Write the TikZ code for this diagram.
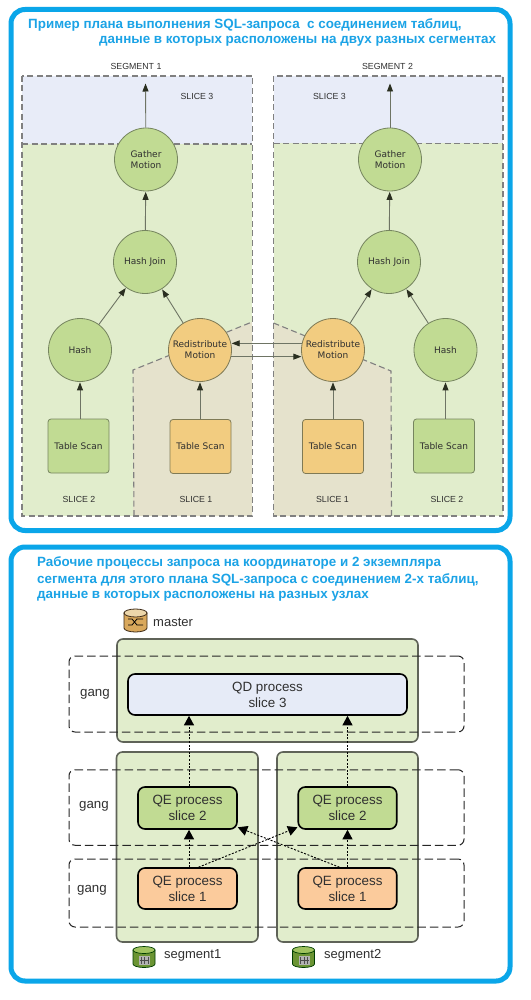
\documentclass[tikz,border=0pt]{standalone}
\usepackage{fontspec}
\setmainfont{Liberation Sans}
\newfontfamily\verd{DejaVu Sans}
\usetikzlibrary{arrows.meta,calc}
\definecolor{panelblue}{HTML}{0AA6E9}
\definecolor{titleblue}{HTML}{1BA3E6}
\definecolor{slicegreen}{HTML}{E1EDCC}
\definecolor{sliceblue}{HTML}{E8ECF8}
\definecolor{slicebeige}{HTML}{E5E2CC}
\definecolor{nodegreen}{HTML}{C1DB93}
\definecolor{nodeorange}{HTML}{F2CC80}
\definecolor{qeorange}{HTML}{FBCB9C}
\definecolor{qdblue}{HTML}{E6EBF7}
\definecolor{edgegreen}{HTML}{76855F}
\definecolor{edgeorange}{HTML}{7F7A55}
\definecolor{dashgray}{HTML}{808080}
\definecolor{arrowgray}{HTML}{6E7464}
\definecolor{arrowdark}{HTML}{2A2F20}
\definecolor{boxgray}{HTML}{5F6358}
\definecolor{inktext}{HTML}{303030}
\tikzset{
  panel/.style={draw=panelblue,line width=5pt,rounded corners=14pt,fill=white},
  titletext/.style={font=\bfseries\fontsize{13.4}{15}\selectfont,text=titleblue,inner sep=0pt,anchor=west},
  slicedash/.style={draw=dashgray,line width=1.1pt,dash pattern=on 6pt off 3.5pt},
  labeltext/.style={font=\fontsize{8.8}{10}\selectfont,text=inktext,inner sep=0pt},
  planround/.style={circle,minimum size=63pt,inner sep=0pt,line width=.8pt,align=center,
     font=\verd\fontsize{9}{11}\selectfont,text=inktext},
  planscan/.style={rectangle,rounded corners=3pt,minimum width=61pt,minimum height=54pt,inner sep=0pt,
     line width=.8pt,font=\verd\fontsize{9}{10}\selectfont,text=inktext},
  gn/.style={draw=edgegreen,fill=nodegreen},
  on/.style={draw=edgeorange,fill=nodeorange},
  planarrow/.style={draw=arrowgray,line width=.9pt,-{Triangle[length=8pt,width=6pt,color=arrowdark]},shorten >=.5pt},
  hostbox/.style={draw=boxgray,fill=slicegreen,line width=1.6pt,rounded corners=6pt},
  procbox/.style={draw=black,line width=1.6pt,rounded corners=7pt,inner sep=0pt,align=center,
     font=\fontsize{13.4}{16}\selectfont,text=inktext},
  gangbox/.style={draw=black!85,line width=1pt,dash pattern=on 8.5pt off 4pt,rounded corners=6pt},
  ganglabel/.style={font=\fontsize{13.3}{15}\selectfont,text=inktext,inner sep=0pt},
  hostlabel/.style={font=\fontsize{13}{14}\selectfont,text=inktext,inner sep=0pt,anchor=west},
  flow/.style={draw=black,line width=.9pt,dash pattern=on 2pt off 1.6pt,
     -{Triangle[length=9.5pt,width=10pt,color=black]}},
}
\begin{document}
\begin{tikzpicture}[x=1pt,y=-1pt]
\useasboundingbox (0,0) rectangle (530,1000);
\fill[white] (0,0) rectangle (530,1000);

% panels
\draw[panel] (11,9.5) rectangle (510,530.5);
\draw[panel] (11,547) rectangle (510,981);

% titles
\node[titletext] (t1a) at (28,25) {Пример плана выполнения SQL-запроса\ \ с соединением таблиц,};
\node[titletext] (t1b) at (99,41) {данные в которых расположены на двух разных сегментах};
\node[titletext] (t2a) at (37,563) {Рабочие процессы запроса на координаторе и 2 экземпляра};
\node[titletext] (t2b) at (37,579.5) {сегмента для этого плана SQL-запроса с соединением 2-х таблиц,};
\node[titletext] (t2c) at (37,596) {данные в которых расположены на разных узлах};

% ---- segment 1 areas
\fill[slicegreen] (22,76) rectangle (252,516);
\fill[sliceblue] (22,76) rectangle (252,144);
\fill[slicebeige] (133,370) -- (252,322) -- (252,516) -- (133,516) -- cycle;
\draw[slicedash] (22,76) rectangle (252.5,516);
\draw[slicedash] (22,144) -- (252,144);
\draw[slicedash] (134,516) -- (133,370) -- (252,322);
% ---- segment 2 areas
\fill[slicegreen] (273.5,76) rectangle (503,516);
\fill[sliceblue] (273.5,76) rectangle (503,143.5);
\fill[slicebeige] (273.5,323) -- (391,371) -- (391,516) -- (273.5,516) -- cycle;
\draw[slicedash] (273.5,76) rectangle (503,516);
\draw[slicedash] (273.5,143.5) -- (503,143.5);
\draw[slicedash] (273.5,323) -- (391,371) -- (391.5,516);

% labels
\node[labeltext] (seg1) at (136,66) {SEGMENT 1};
\node[labeltext] (seg2) at (387.5,66) {SEGMENT 2};
\node[labeltext] (s3a) at (197,96) {SLICE 3};
\node[labeltext] (s3b) at (329.5,96) {SLICE 3};
\node[labeltext] (s2a) at (79,499) {SLICE 2};
\node[labeltext] (s1a) at (196,499) {SLICE 1};
\node[labeltext] (s1b) at (332.5,499) {SLICE 1};
\node[labeltext] (s2b) at (447,499) {SLICE 2};

% plan nodes
\node[planround,gn] (g1) at (146,159.5) {Gather\\Motion};
\node[planround,gn] (j1) at (145,262) {Hash Join};
\node[planround,gn] (h1) at (80,350) {Hash};
\node[planround,on] (r1) at (200,350) {Redistribute\\Motion};
\node[planscan,gn] (ts1) at (78.5,446) {Table Scan};
\node[planscan,on] (ts2) at (200.5,446.5) {Table Scan};
\node[planround,gn] (g2) at (390,159.5) {Gather\\Motion};
\node[planround,gn] (j2) at (389,262) {Hash Join};
\node[planround,on] (r2) at (333,350) {Redistribute\\Motion};
\node[planround,gn] (h2) at (445.5,350) {Hash};
\node[planscan,on] (ts3) at (333,446.5) {Table Scan};
\node[planscan,gn] (ts4) at (444,446) {Table Scan};
\coordinate (o1) at (145.5,83);
\coordinate (o2) at (390,83);

\draw[planarrow] (g1) -- (o1);
\draw[planarrow] (g2) -- (o2);
\draw[planarrow] (j1) -- (g1);
\draw[planarrow] (j2) -- (g2);
\draw[planarrow] (h1) -- (j1);
\draw[planarrow] (r1) -- (j1);
\draw[planarrow] (r2) -- (j2);
\draw[planarrow] (h2) -- (j2);
\draw[planarrow] (ts1.north -| h1) -- (h1);
\draw[planarrow] (ts2.north -| r1) -- (r1);
\draw[planarrow] (ts3) -- (r2);
\draw[planarrow] (ts4.north -| h2) -- (h2);
\draw[planarrow] (r2.168) -- (r1.12);
\draw[planarrow] (r1.-12) -- (r2.192);

% ---- second panel
\node[hostbox,minimum width=301pt,minimum height=103pt,inner sep=0pt] (mb) at (267.5,690.5) {};
\node[hostbox,minimum width=141.5pt,minimum height=190pt,inner sep=0pt] (sb1) at (187.25,847) {};
\node[hostbox,minimum width=141pt,minimum height=190pt,inner sep=0pt] (sb2) at (347.5,847) {};

\node[gangbox,minimum width=395pt,minimum height=76pt,inner sep=0pt] (g3) at (266.5,694) {};
\node[gangbox,minimum width=395pt,minimum height=75.5pt,inner sep=0pt] (g4) at (266.5,807.5) {};
\node[gangbox,minimum width=395pt,minimum height=68pt,inner sep=0pt] (g5) at (266.5,893) {};

\node[procbox,fill=qdblue,minimum width=279pt,minimum height=41pt] (qd) at (267.5,694.5) {QD process\\slice 3};
\node[procbox,fill=nodegreen,minimum width=99pt,minimum height=42pt] (qe2l) at (187.5,808) {QE process\\slice 2};
\node[procbox,fill=nodegreen,minimum width=98.5pt,minimum height=42pt] (qe2r) at (347.5,808) {QE process\\slice 2};
\node[procbox,fill=qeorange,minimum width=99pt,minimum height=41pt] (qe1l) at (187.5,888.5) {QE process\\slice 1};
\node[procbox,fill=qeorange,minimum width=98.5pt,minimum height=41pt] (qe1r) at (347.5,888.5) {QE process\\slice 1};

\node[ganglabel] (gl1) at (95,694) {gang};
\node[ganglabel] (gl2) at (94,806) {gang};
\node[ganglabel] (gl3) at (92,890) {gang};

\draw[flow] ([xshift=1.5pt]qe2l.north) -- ([xshift=1.5pt]qe2l.north |- qd.south);
\draw[flow] (qe2r.north) -- (qe2r.north |- qd.south);
\draw[flow] ([xshift=1.5pt]qe1l.north) -- ([xshift=1.5pt]qe2l.south);
\draw[flow] (qe1r.north) -- (qe2r.south);
\draw[flow] ([xshift=11pt]qe1l.north) -- ([yshift=2.5pt]qe2r.south west);
\draw[flow] ([xshift=-8pt]qe1r.north) -- ([yshift=2.5pt]qe2l.south east);

% master icon
\node[hostlabel] (ml) at (153,622.5) {master};
\node[hostlabel] (sl1) at (164,955.5) {segment1};
\node[hostlabel] (sl2) at (324,955.5) {segment2};

\begin{scope}[shift={(124,608)}]
  \draw[draw=black!70!brown,fill={rgb,255:red,217;green,168;blue,92},line width=.8pt]
     (0,5) -- (0,20) arc[x radius=11.5,y radius=-4,start angle=180,end angle=360] -- (23,5) -- cycle;
  \draw[draw=black!70!brown,fill={rgb,255:red,236;green,214;blue,170},line width=.8pt]
     (11.5,5) ellipse[x radius=11.5,y radius=4];
  \draw[black,line width=.8pt] (4,11) -- (8,11) -- (13,17) -- (19,17);
  \draw[black,line width=.8pt] (4,17) -- (8,17) -- (13,11) -- (19,11);
\end{scope}
\foreach \ix/\nm in {133/ia,292.5/ib}{
\begin{scope}[shift={(\ix,946)}]
  \draw[draw=black!60!green!60!black,fill={rgb,255:red,107;green,148;blue,51},line width=.7pt]
     (0,4) -- (0,18) arc[x radius=11,y radius=-3.5,start angle=180,end angle=360] -- (22,4) -- cycle;
  \draw[draw=black!60!green!60!black,fill={rgb,255:red,160;green,195;blue,95},line width=.7pt]
     (11,4) ellipse[x radius=11,y radius=3.5];
  \fill[gray!60] (6,10) rectangle (17,19);
  \draw[black!70,line width=.6pt] (8,11) -- (8,18) (11.5,11) -- (11.5,18) (15,11) -- (15,18) (7,14.5) -- (16,14.5);
\end{scope}}
\end{tikzpicture}
\end{document}
